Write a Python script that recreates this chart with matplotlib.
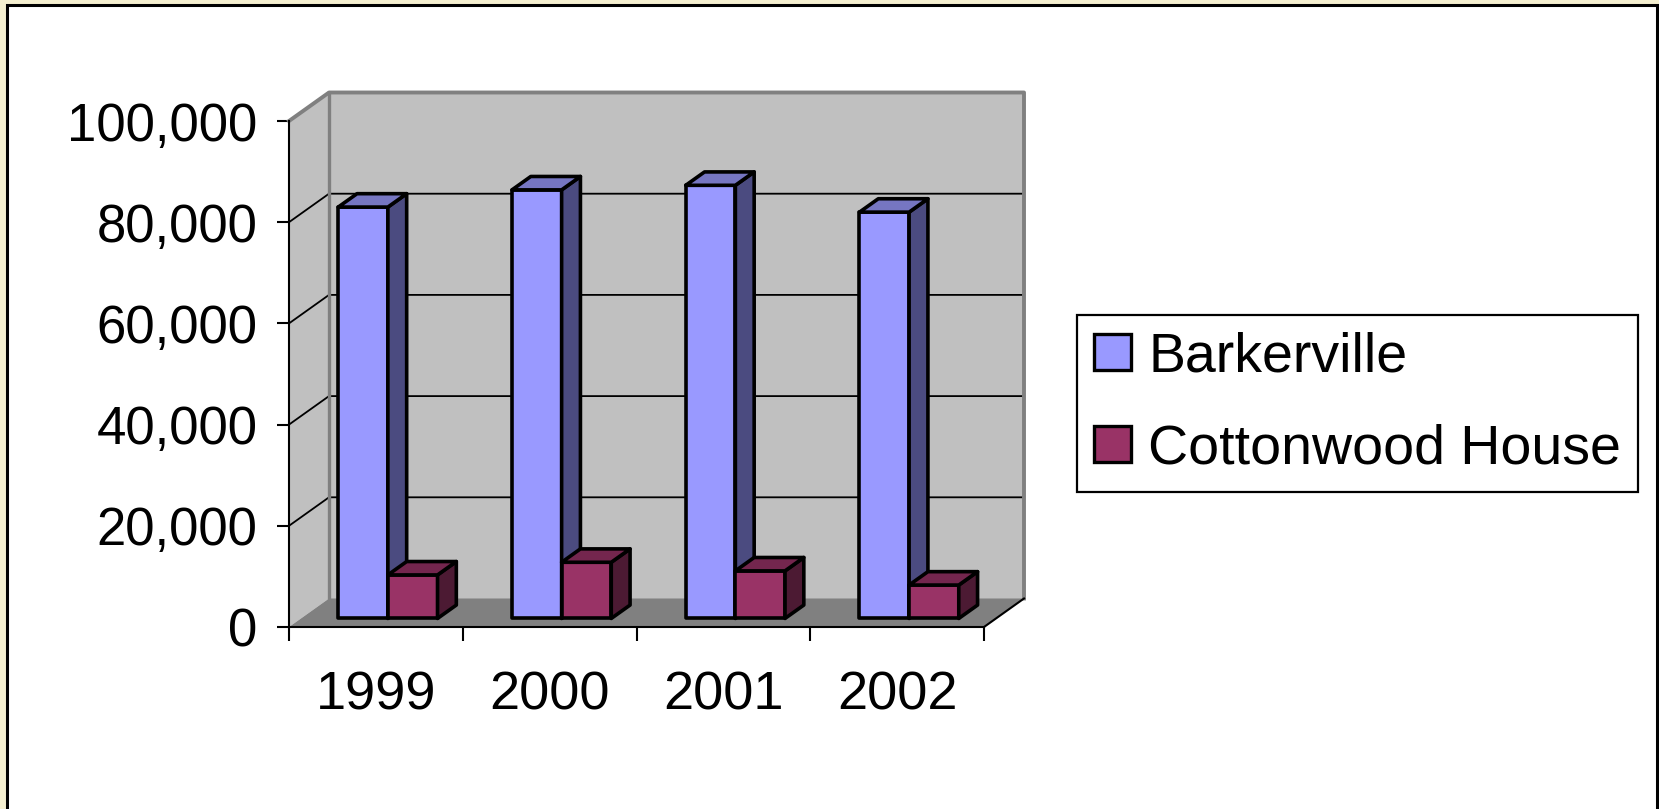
import matplotlib.pyplot as plt
from matplotlib.patches import Rectangle, Polygon, Patch

plt.rcParams['font.family'] = ['Liberation Sans', 'DejaVu Sans']

years = ['1999', '2000', '2001', '2002']
series = ['Barkerville', 'Cottonwood House']
barkerville = [81300, 84700, 85600, 80300]
cottonwood = [8600, 11100, 9400, 6600]
y_ticks = [0, 20000, 40000, 60000, 80000, 100000]

front_colors = ['#9999FF', '#993366']
top_colors = ['#7676C2', '#74264E']
side_colors = ['#4B4B80', '#4C1A33']

W, H = 1659, 809
fig = plt.figure(figsize=(W / 100, H / 100), dpi=100, facecolor='#F4EFCF')

# white chart area with black frame (cream shows at top and left)
fig.patches.append(Rectangle((7 / W, -0.02), (1657 - 7) / W, 1 - 5 / H + 0.02,
                             transform=fig.transFigure, facecolor='white',
                             edgecolor='black', lw=2.2, zorder=-5))

ax = fig.add_axes([289 / W, 1 - 627 / H, (984 - 289) / W, (627 - 121) / H])
ax.set_zorder(1)
ax.set_xlim(0, 4)
ax.set_ylim(0, 100000)
ax.patch.set_visible(False)

# depth offset of back wall, in data units
DX = 40 / (984 - 289) * 4
DY = 28.5 / (627 - 121) * 100000
ymax = y_ticks[-1]
wall = '#C0C0C0'
edge_gray = '#808080'

# back wall, left wall, floor
ax.add_patch(Polygon([(DX, DY), (4 + DX, DY), (4 + DX, ymax + DY), (DX, ymax + DY)],
                     closed=True, facecolor=wall, edgecolor='none', zorder=1, clip_on=False))
ax.add_patch(Polygon([(0, 0), (DX, DY), (DX, ymax + DY), (0, ymax)],
                     closed=True, facecolor=wall, edgecolor='none', zorder=1, clip_on=False))
ax.add_patch(Polygon([(0, 0), (4, 0), (4 + DX, DY), (DX, DY)],
                     closed=True, facecolor='#808080', edgecolor='none', zorder=1, clip_on=False))

# gridlines on left wall and back wall
for v in y_ticks[1:-1]:
    ax.plot([0, DX, 4 + DX], [v, v + DY, v + DY], color='black', lw=1.3, zorder=2,
            clip_on=False)

# gray wall edges
ax.plot([0, DX, 4 + DX, 4 + DX], [ymax, ymax + DY, ymax + DY, DY], color=edge_gray,
        lw=2.8, zorder=2, clip_on=False, solid_joinstyle='round')
ax.plot([DX, DX], [DY, ymax + DY], color=edge_gray, lw=2.4, zorder=2, clip_on=False)
ax.plot([4, 4 + DX], [0, DY], color='black', lw=1.5, zorder=2, clip_on=False)

# bars
w = 1 / 3.5
gap = 1 - 2 * w
f0, f1 = 0.3, 0.77
d = f1 - f0
base = f0 * DY
for i in range(len(years)):
    for s, vals in enumerate([barkerville, cottonwood]):
        v = vals[i]
        x0 = i + gap / 2 + s * w + f0 * DX
        zo = 3 + i * 2 + s
        ax.add_patch(Rectangle((x0, base), w, v, facecolor=front_colors[s],
                               edgecolor='black', lw=2.6, zorder=zo, clip_on=False,
                               joinstyle='round'))
        ax.add_patch(Polygon([(x0 + w, base), (x0 + w + d * DX, base + d * DY),
                              (x0 + w + d * DX, base + v + d * DY), (x0 + w, base + v)],
                             closed=True, facecolor=side_colors[s], edgecolor='black',
                             lw=2.6, zorder=zo, clip_on=False, joinstyle='round'))
        ax.add_patch(Polygon([(x0, base + v), (x0 + w, base + v),
                              (x0 + w + d * DX, base + v + d * DY), (x0 + d * DX, base + v + d * DY)],
                             closed=True, facecolor=top_colors[s], edgecolor='black',
                             lw=2.6, zorder=zo, clip_on=False, joinstyle='round'))

# axes
for sp in ['top', 'right']:
    ax.spines[sp].set_visible(False)
for sp in ['left', 'bottom']:
    ax.spines[sp].set_linewidth(1.5)
    ax.spines[sp].set_zorder(2)
ax.set_yticks(y_ticks)
ax.set_yticklabels([f'{t:,}' for t in y_ticks])
ax.tick_params(axis='y', length=8.6, width=1.5, pad=14, labelsize=38)
ax.set_xticks(range(len(years) + 1))
ax.set_xticklabels([])
ax.tick_params(axis='x', which='major', length=10, width=1.5)
ax.set_xticks([i + 0.5 for i in range(len(years))], minor=True)
ax.set_xticklabels(years, minor=True)
ax.tick_params(axis='x', which='minor', length=0, pad=31, labelsize=39)

handles = [Patch(facecolor=c, edgecolor='black', lw=2.4) for c in front_colors]
leg = fig.legend(handles, series, loc='upper left',
                 bbox_to_anchor=(1077 / W, 1 - 315 / H), fontsize=40,
                 frameon=True, fancybox=False, edgecolor='black', framealpha=1,
                 handlelength=0.68, handleheight=0.6, handletextpad=0.3,
                 labelspacing=0.72, borderpad=0.3, borderaxespad=0)
leg.get_frame().set_linewidth(1.6)
leg.set_zorder(5)

fig.savefig('out.png', dpi=100, facecolor=fig.get_facecolor())
